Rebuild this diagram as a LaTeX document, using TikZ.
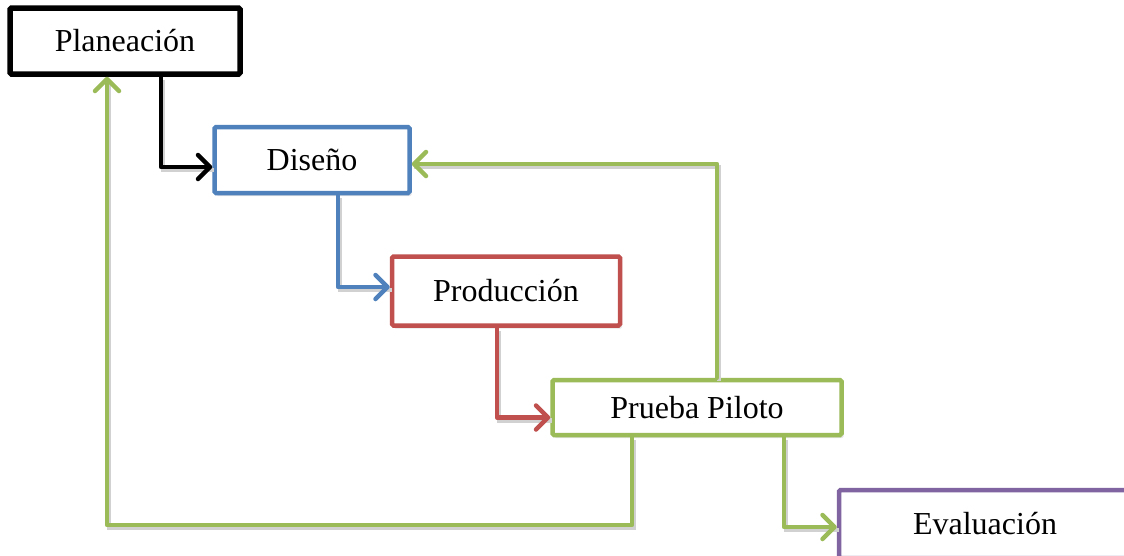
\documentclass[tikz,border=0pt]{standalone}
\usepackage{fontspec}
\setmainfont{Liberation Serif}
\usetikzlibrary{arrows.meta,calc,shadows}
\definecolor{cblue}{HTML}{4F81BD}
\definecolor{cred}{HTML}{C0504D}
\definecolor{cgreen}{HTML}{9BBB59}
\definecolor{cpurple}{HTML}{8064A2}
\tikzset{
  box/.style={draw, line width=4.5pt, fill=white, rounded corners=1.5pt, inner sep=0pt,
    font=\fontsize{32}{38}\selectfont,
    drop shadow={opacity=0.2, shadow xshift=2pt, shadow yshift=-3pt}},
  conn/.style={line width=4.5pt, line cap=round, line join=round,
    -{Straight Barb[length=12pt,width=24pt,line cap=round,line join=round]},
    preaction={draw=black!18, line width=4.5pt, transform canvas={xshift=2pt,yshift=-3pt}, -}},
}
\begin{document}
\begin{tikzpicture}[x=1pt,y=-1pt]
\useasboundingbox (0,0) rectangle (1124,555);
\clip (0,0) rectangle (1124,555);
\fill[white] (0,0) rectangle (1124,555);
% nodes
\node[box, draw=black, line width=5.5pt, minimum width=230, minimum height=66] (pla) at (125,41) {Planeación};
\node[box, draw=cblue, minimum width=195, minimum height=66] (dis) at (312,160) {Diseño};
\node[box, draw=cred, minimum width=228, minimum height=69] (pro) at (506,291) {Producción};
\node[box, draw=cpurple, minimum width=292, minimum height=68] (eva) at (985,524) {Evaluación};
% coordinates for connector routes
\coordinate (xa) at (161,0);
\coordinate (xb) at (338,0);
\coordinate (xc) at (497,0);
\coordinate (xd) at (717,164);
\coordinate (xe) at (632,0);
\coordinate (xf) at (784,0);
\coordinate (corner) at (107,525);
% connectors drawn before Prueba so box overlaps line ends
\draw[conn, black] (pla.south -| xa) |- ([yshift=-7pt]dis.west);
\draw[conn, cblue] (dis.south -| xb) |- ([yshift=4pt]pro.west);
\node[box, draw=cgreen, minimum width=289, minimum height=55] (pru) at (697,407.5) {Prueba Piloto};
\draw[conn, cred] (pro.south -| xc) |- ([yshift=-10pt]pru.west);
\draw[conn, cgreen] (pru.north -| xd) |- ([yshift=-4pt]dis.east);
\draw[conn, cgreen] (pru.south -| xe) |- (corner) -- (pla.south -| corner);
\draw[conn, cgreen] (pru.south -| xf) |- ([yshift=-3pt]eva.west);
\end{tikzpicture}
\end{document}
